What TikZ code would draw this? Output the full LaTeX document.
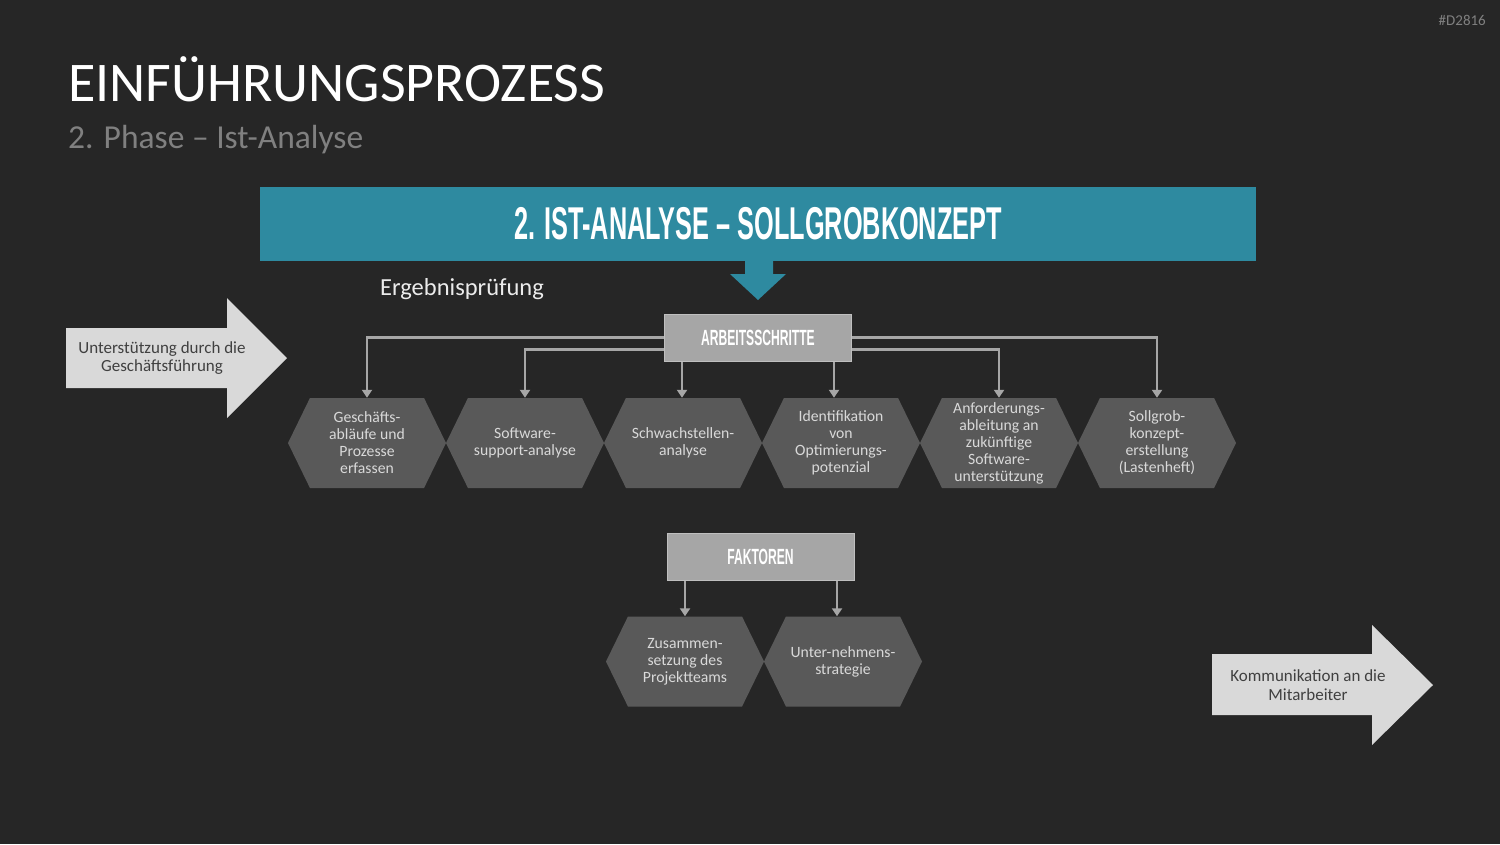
\documentclass[tikz,border=0pt]{standalone}
\usepackage{fontspec}
\setmainfont{Carlito}
\newfontfamily\headfont{Liberation Sans}[FakeStretch=0.55]
\usetikzlibrary{shapes.symbols,arrows.meta,positioning}

\definecolor{bgdark}{RGB}{38,38,38}
\definecolor{bannerteal}{RGB}{46,138,160}
\definecolor{hexgray}{RGB}{89,89,89}
\definecolor{boxgray}{RGB}{166,166,166}
\definecolor{arrowlight}{RGB}{217,217,217}

\begin{document}
\begin{tikzpicture}[x=1pt,y=-1pt,
    hex/.style={signal,signal to=west and east,signal pointer angle=128,
      fill=hexgray,minimum width=158pt,minimum height=90pt,inner sep=0pt,
      text=white!85!black,align=center,font=\fontsize{15.7}{17}\selectfont},
    headbox/.style={fill=boxgray,draw=white!75!black,line width=1pt,
      minimum width=187pt,minimum height=47pt,inner sep=0pt,text=white,
      font=\headfont\bfseries\fontsize{22}{24}\selectfont},
    conn/.style={draw=boxgray,line width=2.5pt,
      -{Triangle[width=10pt,length=8pt]}},
    sidetext/.style={text=black!75,align=center,
      font=\fontsize{17}{18.5}\selectfont}]
  \fill[bgdark] (0,0) rectangle (1500,844);
  % heading
  \node[anchor=base east,inner sep=0pt,text=white!50!black,
    font=\fontsize{15}{15}\selectfont] (tag) at (1486,25) {\#D2816};
  \node[anchor=base west,inner sep=0pt,text=white,
    font=\fontsize{56}{60}\selectfont] (title) at (68,101) {EINFÜHRUNGSPROZESS};
  \node[anchor=base west,inner sep=0pt,text=white!50!black,
    font=\fontsize{33.5}{36}\selectfont] (subtitle) at (68,148)
    {2. Phase – Ist-Analyse};
  % banner with down arrow
  \node[fill=bannerteal,minimum width=996pt,minimum height=74pt,inner sep=0pt,
    text=white,font=\headfont\bfseries\fontsize{46}{48}\selectfont]
    (banner) at (758,224) {2. IST-ANALYSE – SOLLGROBKONZEPT};
  \fill[bannerteal] (745,261) -- (773,261) -- (773,274) -- (786,274)
    -- (758,300) -- (730,274) -- (745,274) -- cycle;
  \node[anchor=base west,inner sep=0pt,text=white!92!black,
    font=\fontsize{24.5}{26}\selectfont] (check) at (380,295) {Ergebnisprüfung};
  % side arrows
  \fill[arrowlight] (66,328) -- (227,328) -- (227,298) -- (287,358)
    -- (227,418) -- (227,388) -- (66,388) -- cycle;
  \node[sidetext] (support) at (162,358)
    {Unterstützung durch die\\Geschäftsführung};
  \fill[arrowlight] (1212,654) -- (1372,654) -- (1372,625) -- (1433,685)
    -- (1372,745) -- (1372,715) -- (1212,715) -- cycle;
  \node[sidetext] (comm) at (1308,685) {Kommunikation an die\\Mitarbeiter};
  % work steps
  \node[headbox] (steps) at (758,337.5) {ARBEITSSCHRITTE};
  \node[hex] (h1) at (367,443) {Geschäfts-\\abläufe und\\Prozesse\\erfassen};
  \node[hex] (h2) at (525,443) {Software-\\support-analyse};
  \node[hex] (h3) at (683,443) {Schwachstellen-\\analyse};
  \node[hex] (h4) at (841,443) {Identifikation\\von\\Optimierungs-\\potenzial};
  \node[hex] (h5) at (999,443)
    {Anforderungs-\\ableitung an\\zukünftige\\Software-\\unterstützung};
  \node[hex] (h6) at (1157,443)
    {Sollgrob-\\konzept-\\erstellung\\(Lastenheft)};
  \draw[conn] (steps.west) -| (h1.north);
  \draw[conn] ([yshift=-12pt]steps.west) -| (h2.north);
  \draw[conn] ([xshift=-1pt]h3.north |- steps.south) -- ([xshift=-1pt]h3.north);
  \draw[conn] ([xshift=-7pt]h4.north |- steps.south) -- ([xshift=-7pt]h4.north);
  \draw[conn] ([yshift=-12pt]steps.east) -| (h5.north);
  \draw[conn] (steps.east) -| (h6.north);
  % factors
  \node[headbox] (facts) at (760.5,556.5) {FAKTOREN};
  \node[hex] (f1) at (685,661.5) {Zusammen-\\setzung des\\Projektteams};
  \node[hex] (f2) at (843,661.5) {Unter-nehmens-\\strategie};
  \draw[conn] (f1.north |- facts.south) -- (f1.north);
  \draw[conn] ([xshift=-6pt]f2.north |- facts.south) -- ([xshift=-6pt]f2.north);
\end{tikzpicture}
\end{document}
